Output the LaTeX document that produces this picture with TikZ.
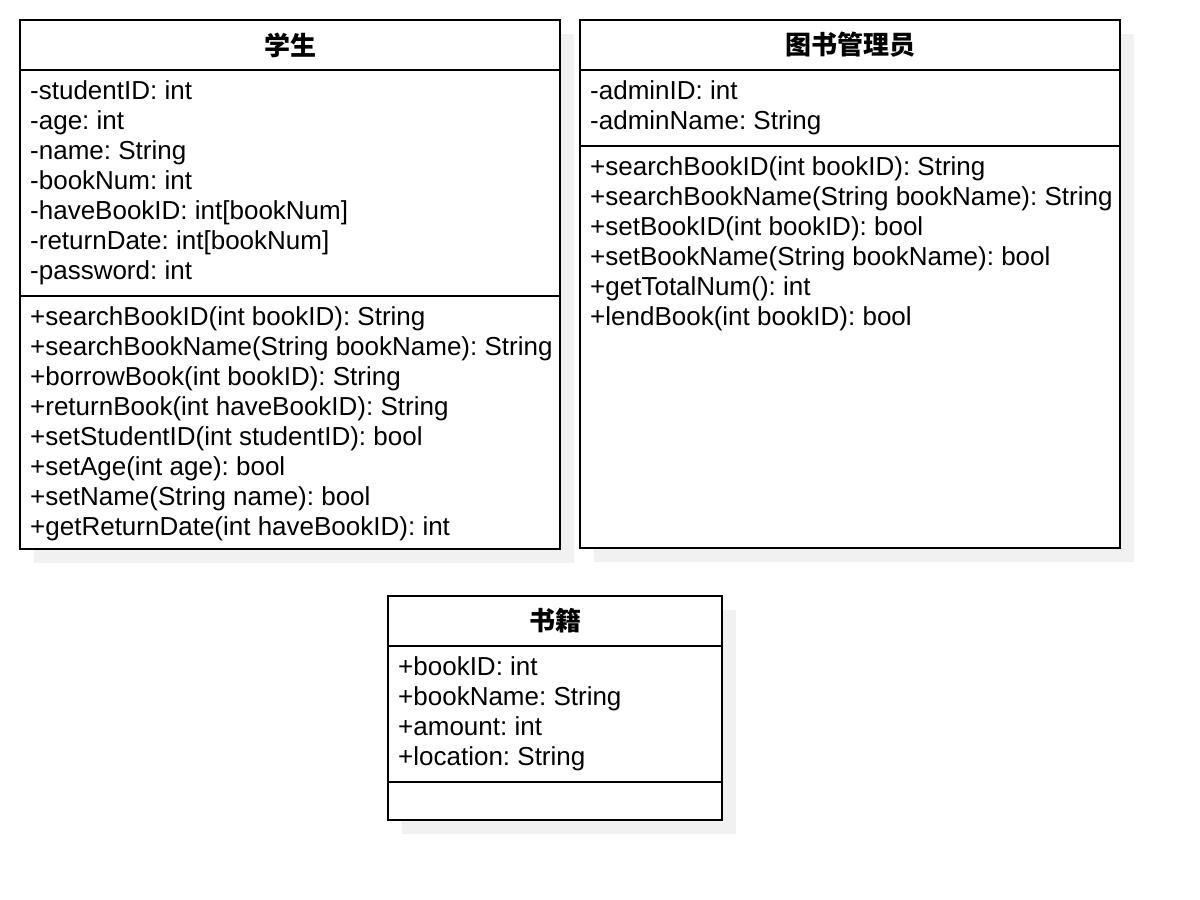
\documentclass[tikz,border=0pt]{standalone}
\usepackage{fontspec}
\setmainfont{Liberation Sans}
\newfontfamily\cjk{Noto Sans CJK SC}
\definecolor{shadowc}{RGB}{241,241,241}
\tikzset{
  comp/.style={draw=black, line width=2pt, fill=white, rectangle, inner sep=0pt, outer sep=0pt, anchor=north west},
  txt/.style={inner sep=0pt, anchor=base west, font=\frenchspacing\fontsize{26}{30}\selectfont},
  ttl/.style={inner sep=0pt, font=\cjk\bfseries\fontsize{26}{30}\selectfont},
}
\newcommand{\umllines}[4]{%
  \foreach \t [count=\i] in {#4} \node[txt] (#3\i) at (#1, {#2+(\i-1)*30}) {\t};}
\begin{document}
\begin{tikzpicture}[x=1pt,y=-1pt]
\useasboundingbox (0,0) rectangle (1200,900);
% shadows
\fill[shadowc] (34,34) rectangle (574,563);
\fill[shadowc] (594,34) rectangle (1134,562);
\fill[shadowc] (402,610) rectangle (736,834);
% student
\node[comp, minimum width=540pt, minimum height=50pt] (stuH) at (20,20) {};
\node[comp, minimum width=540pt, minimum height=226pt] (stuA) at (20,70) {};
\node[comp, minimum width=540pt, minimum height=253pt] (stuM) at (20,296) {};
\node[ttl] (stuT) at (290,45) {学生};
\umllines{30}{99}{sa}{{-studentID: int},{-age: int},{-name: String},{-bookNum: int},{-haveBookID: int[bookNum]},{-returnDate: int[bookNum]},{-password: int}}
\umllines{30}{325}{sm}{{+searchBookID(int bookID): String},{+searchBookName(String bookName): String},{+borrowBook(int bookID): String},{+returnBook(int haveBookID): String},{+setStudentID(int studentID): bool},{+setAge(int age): bool},{+setName(String name): bool},{+getReturnDate(int haveBookID): int}}
% admin
\node[comp, minimum width=540pt, minimum height=50pt] (admH) at (580,20) {};
\node[comp, minimum width=540pt, minimum height=76pt] (admA) at (580,70) {};
\node[comp, minimum width=540pt, minimum height=402pt] (admM) at (580,146) {};
\node[ttl] (admT) at (850,45) {图书管理员};
\umllines{590}{99}{aa}{{-adminID: int},{-adminName: String}}
\umllines{590}{175}{am}{{+searchBookID(int bookID): String},{+searchBookName(String bookName): String},{+setBookID(int bookID): bool},{+setBookName(String bookName): bool},{+getTotalNum(): int},{+lendBook(int bookID): bool}}
% book
\node[comp, minimum width=334pt, minimum height=50pt] (bkH) at (388,596) {};
\node[comp, minimum width=334pt, minimum height=136pt] (bkA) at (388,646) {};
\node[comp, minimum width=334pt, minimum height=38pt] (bkM) at (388,782) {};
\node[ttl] (bkT) at (555,621) {书籍};
\umllines{398}{675}{ba}{{+bookID: int},{+bookName: String},{+amount: int},{+location: String}}
\end{tikzpicture}
\end{document}
